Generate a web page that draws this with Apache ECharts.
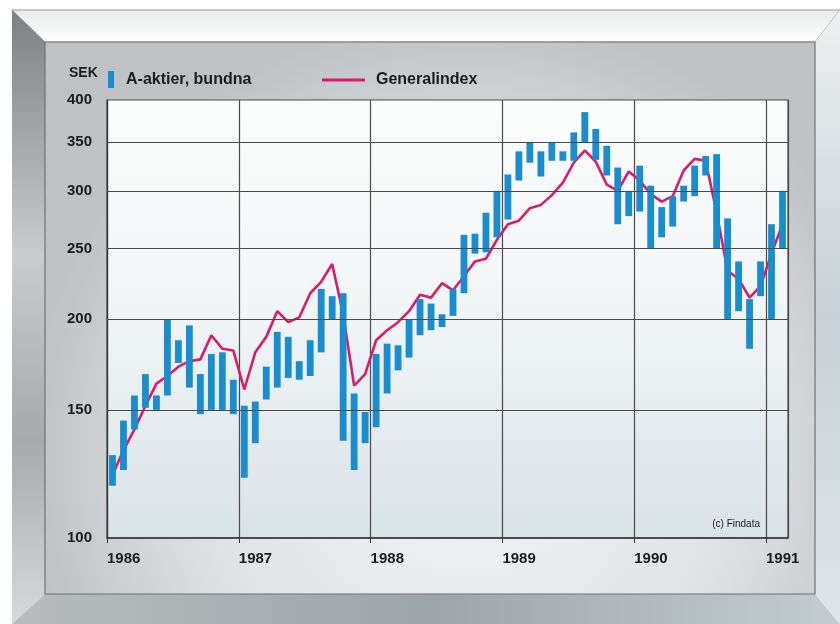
<!DOCTYPE html>
<html>
<head>
<meta charset="utf-8">
<script src="https://cdn.jsdelivr.net/npm/echarts@6/dist/echarts.min.js"></script>
<style>
html,body{margin:0;padding:0;background:#fff;}
#chart{width:840px;height:624px;}
</style>
</head>
<body>
<div id="chart"></div>
<script>
// ---- data (monthly, Jan 1986 .. Feb 1991) ----
const startYear = 1986;
const yearLabels = ['1986','1987','1988','1989','1990','1991'];
const yTicks = [100, 150, 200, 250, 300, 350, 400];
// A-aktier, bundna: monthly low / high
const aLow = [118,124,141,151,150,157,174,161,148,150,150,148,
              121,135,155,161,166,165,167,180,200,136,124,135,
              142,158,170,177,190,193,195,202,217,246,247,259,
              274,310,328,314,330,330,330,350,331,315,270,277,
              281,250,259,268,290,295,315,250,200,205,182,215,
              200,250];
const aHigh = [130,145,157,168,157,200,187,196,168,179,180,165,
               152,154,172,192,189,175,187,220,215,217,158,149,
               179,185,184,200,213,210,203,220,261,262,280,300,
               316,340,350,340,350,340,361,385,365,346,323,300,
               325,305,285,295,305,325,335,337,275,240,213,240,
               270,300];
// Generalindex
const genIndex = [122,132,141,152,163,167,172,175,176,190,182,181,
                  160,180,189,205,198,201,217,225,238,203,162,168,
                  187,193,198,205,216,214,224,219,229,240,242,257,
                  270,273,284,287,296,308,328,341,329,306,300,319,
                  310,297,290,295,320,332,330,280,233,227,214,222,
                  246,270];

const barColor = '#1a8cd0';
const lineColor = '#d81c6c';
const textColor = '#1c1c1c';
const gridColor = '#4a4a4a';
const FONT = "'Liberation Sans Narrow','Liberation Sans',Arial,sans-serif";

const barData = aLow.map((lo, i) => [i + 0.5, lo, aHigh[i]]);
const lineData = genIndex.map((v, i) => [i + 0.5, v]);

const chart = echarts.init(document.getElementById('chart'), null, {renderer: 'canvas'});

const option = {
  animation: false,
  backgroundColor: '#ffffff',
  graphic: [
    // outer frame bevels
    {type:'polygon', z:-20, silent:true, shape:{points:[[12,10],[840,10],[815,42],[45,42]]},
      style:{fill:{type:'linear',x:0,y:0,x2:0,y2:1,colorStops:[{offset:0,color:'#e9eaea'},{offset:1,color:'#ffffff'}]}, stroke:'#9a9a9a', lineWidth:1}},
    {type:'polygon', z:-20, silent:true, shape:{points:[[12,10],[45,42],[45,594],[12,624]]},
      style:{fill:{type:'linear',x:0,y:0,x2:0,y2:1,colorStops:[{offset:0,color:'#7d8184'},{offset:0.4,color:'#c9cbcc'},{offset:0.7,color:'#a6aaad'},{offset:1,color:'#d7dadb'}]}}},
    {type:'polygon', z:-20, silent:true, shape:{points:[[12,624],[45,594],[815,594],[840,624]]},
      style:{fill:{type:'linear',x:0,y:0,x2:1,y2:0,colorStops:[{offset:0,color:'#b8bcbe'},{offset:0.5,color:'#9ea5a9'},{offset:1,color:'#c3cdd2'}]}}},
    {type:'polygon', z:-20, silent:true, shape:{points:[[840,10],[815,42],[815,594],[840,624]]},
      style:{fill:{type:'linear',x:0,y:0,x2:0,y2:1,colorStops:[{offset:0,color:'#eef0f1'},{offset:0.5,color:'#c6d1d7'},{offset:1,color:'#dfe6e9'}]}}},
    // inner panel
    {type:'rect', z:-19, silent:true, shape:{x:45,y:42,width:770,height:552},
      style:{fill:{type:'radial',x:0.55,y:0.75,r:0.8,colorStops:[{offset:0,color:'#f4f6f7'},{offset:0.6,color:'#dfe3e5'},{offset:1,color:'#bfc2c4'}]}, stroke:'#6e7376', lineWidth:1.2}},
    // plot area
    {type:'rect', z:-18, silent:true, shape:{x:107,y:100,width:681,height:438},
      style:{fill:{type:'linear',x:0,y:0,x2:0,y2:1,colorStops:[{offset:0,color:'#fbfcfc'},{offset:0.45,color:'#f3f6f7'},{offset:1,color:'#d9e3e7'}]}}},
    // legend
    {type:'rect', z:10, silent:true, shape:{x:108,y:71,width:6,height:17}, style:{fill:barColor}},
    {type:'text', z:10, silent:true, x:126, y:80, style:{text:'A-aktier, bundna', font:"bold 16px " + FONT, fill:textColor, verticalAlign:'middle'}},
    {type:'line', z:10, silent:true, shape:{x1:322,y1:80,x2:365,y2:80}, style:{stroke:lineColor, lineWidth:3}},
    {type:'text', z:10, silent:true, x:376, y:80, style:{text:'Generalindex', font:"bold 16px " + FONT, fill:textColor, verticalAlign:'middle'}},
    {type:'text', z:10, silent:true, x:69, y:73, style:{text:'SEK', font:"bold 14px " + FONT, fill:textColor, verticalAlign:'middle'}},
    {type:'text', z:10, silent:true, x:760, y:524, style:{text:'(c) Findata', font:"10px " + FONT, fill:textColor, align:'right', verticalAlign:'middle'}}
  ],
  grid: {left:107, right:52, top:100, bottom:86, show:true, borderColor:gridColor, borderWidth:1.2, backgroundColor:'transparent'},
  xAxis: {
    type:'value', min:0, max:62, interval:12,
    axisLine:{show:true, lineStyle:{color:'#333', width:1.5}},
    axisTick:{show:true, length:5, lineStyle:{color:'#333'}},
    splitLine:{show:true, lineStyle:{color:gridColor, width:1.2}},
    axisLabel:{show:true, margin:13, color:textColor, fontSize:15, fontWeight:'bold', fontFamily:FONT, showMaxLabel:false,
      align:'left', formatter: v => (v % 12 === 0 ? yearLabels[v / 12] : '')}
  },
  yAxis: {
    type:'log', logBase:10, min:100, max:400,
    axisLine:{show:true, lineStyle:{color:'#333', width:1.2}},
    axisTick:{show:false, customValues: yTicks},
    splitLine:{show:false},
    axisLabel:{show:true, customValues: yTicks, margin:15, color:textColor, fontSize:15, fontWeight:'bold', fontFamily:FONT,
      padding:[0,0,10,0], formatter: v => String(Math.round(v))}
  },
  series: [
    {
      name:'grid', type:'line', data:[], z:1, silent:true,
      markLine:{silent:true, symbol:['none','none'], label:{show:false}, animation:false,
        lineStyle:{color:gridColor, width:1.2, type:'solid'},
        data: yTicks.slice(1, -1).map(v => ({yAxis: v}))}
    },
    {
      name:'Generalindex', type:'line', data: lineData, z:3, showSymbol:false, smooth:false,
      lineStyle:{color:lineColor, width:2.6}
    },
    {
      name:'A-aktier, bundna', type:'custom', z:4, data: barData,
      encode:{x:0, y:[1,2]},
      renderItem: function (params, api) {
        const x = api.value(0), lo = api.value(1), hi = api.value(2);
        const pTop = api.coord([x, hi]);
        const pBot = api.coord([x, lo]);
        const w = (api.coord([x + 0.5, lo])[0] - api.coord([x - 0.5, lo])[0]) * 0.62;
        return {type:'rect', shape:{x:pTop[0] - w / 2, y:pTop[1], width:w, height:pBot[1] - pTop[1]},
                style:{fill:barColor}};
      }
    }
  ]
};
chart.setOption(option);
</script>
</body>
</html>
